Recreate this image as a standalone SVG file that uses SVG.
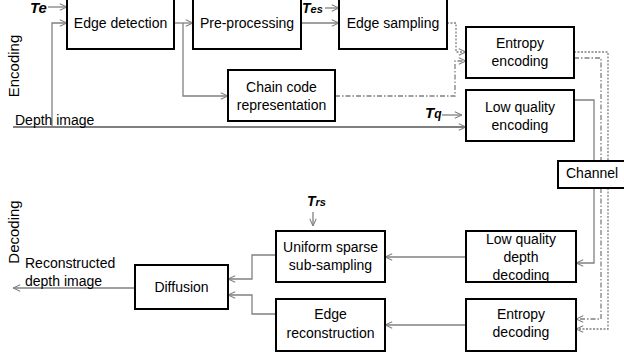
<svg xmlns="http://www.w3.org/2000/svg" width="624" height="358" viewBox="0 0 624 358">
  <style>
    .box { fill: #ffffff; stroke: #000000; stroke-width: 2; }
    .lbl { font-family: "Liberation Sans", Arial, sans-serif; font-size: 14px; fill: #000000; text-anchor: middle; }
    .side { font-family: "Liberation Sans", Arial, sans-serif; fill: #000000; }
    .param { font-family: "Liberation Sans", Arial, sans-serif; font-weight: bold; font-style: italic; fill: #000000; }
    .ln { fill: none; stroke: #808080; stroke-width: 1.3; }
    .dark { stroke: #555555; }
    .dot { stroke-dasharray: 2 1.5; }
    .dashdot { stroke-dasharray: 5 2 1.5 2; }
    .arr { marker-end: url(#ah); }
  </style>
  <defs>
    <marker id="ah" viewBox="0 0 10 10" refX="10" refY="5" markerWidth="8" markerHeight="8" orient="auto" markerUnits="userSpaceOnUse">
      <path d="M1,1 L10,5 L1,9" fill="none" stroke="#808080" stroke-width="1.3"/>
    </marker>
  </defs>

  <rect width="624" height="358" fill="#ffffff"/>

  <!-- section labels -->
  <text class="side" font-size="15" transform="translate(19,66) rotate(-90)" text-anchor="middle">Encoding</text>
  <text class="side" font-size="15" transform="translate(19,232) rotate(-90)" text-anchor="middle">Decoding</text>

  <!-- connectors -->
  <g id="connectors">
    <!-- parameter inputs -->
    <path class="ln arr" d="M48,7 H67"/>
    <path class="ln arr" d="M325,8 H339"/>
    <path class="ln arr" d="M442,115 H462"/>
    <path class="ln arr" d="M313,212 V226"/>

    <!-- depth image input -->
    <path class="ln dark arr" d="M13,127 H466"/>
    <path class="ln arr" d="M52,127 V23 H67"/>

    <!-- encoder chain -->
    <path class="ln arr" d="M174,23 H193"/>
    <path class="ln arr" d="M183,23 V96 H228"/>
    <path class="ln arr" d="M301,23 H339"/>
    <path class="ln dot arr" d="M447,23 H456 V52 H466"/>
    <path class="ln dashdot arr" d="M335,96 H455 V61 H466"/>

    <!-- to and from the channel -->
    <path class="ln" d="M574,100 H594 V161"/>
    <path class="ln dashdot" d="M574,58 H601 V161"/>
    <path class="ln dot" d="M574,52 H608 V161"/>
    <path class="ln arr" d="M594,188 V263 H576"/>
    <path class="ln dashdot arr" d="M601,188 V319 H576"/>
    <path class="ln dot arr" d="M608,188 V329 H576"/>

    <!-- decoder chain -->
    <path class="ln arr" d="M466,257 H385"/>
    <path class="ln arr" d="M466,325 H385"/>
    <path class="ln arr" d="M276,255 H252 V279 H228"/>
    <path class="ln arr" d="M276,314 H252 V295 H228"/>
    <path class="ln arr" d="M135,288 H13"/>
  </g>

  <!-- parameter labels -->
  <text class="param" x="30" y="13" font-size="15">Te</text>
  <text class="param" x="302" y="13" font-size="14">T<tspan font-size="11">es</tspan></text>
  <text class="param" x="425" y="118" font-size="15">T<tspan font-size="12">q</tspan></text>
  <text class="param" x="307" y="206" font-size="14">T<tspan font-size="11">rs</tspan></text>

  <!-- free labels -->
  <text class="side" font-size="14" x="15" y="125">Depth image</text>
  <text class="side" font-size="14" x="25" y="268">Reconstructed</text>
  <text class="side" font-size="14" x="25" y="286">depth image</text>

  <!-- nodes -->
  <g id="edge-detection">
    <rect class="box" x="67" y="-3" width="107" height="52"/>
    <text class="lbl" x="120.5" y="28">Edge detection</text>
  </g>
  <g id="pre-processing">
    <rect class="box" x="193" y="-3" width="108" height="52"/>
    <text class="lbl" x="247" y="28">Pre-processing</text>
  </g>
  <g id="edge-sampling">
    <rect class="box" x="339" y="-3" width="108" height="52"/>
    <text class="lbl" x="393" y="28">Edge sampling</text>
  </g>
  <g id="chain-code">
    <rect class="box" x="228" y="70" width="107" height="51"/>
    <text class="lbl" x="281.5" y="92">Chain code</text>
    <text class="lbl" x="281.5" y="110">representation</text>
  </g>
  <g id="entropy-encoding">
    <rect class="box" x="466" y="27" width="108" height="51"/>
    <text class="lbl" x="520" y="48">Entropy</text>
    <text class="lbl" x="520" y="66">encoding</text>
  </g>
  <g id="low-quality-encoding">
    <rect class="box" x="466" y="90" width="108" height="51"/>
    <text class="lbl" x="520" y="112">Low quality</text>
    <text class="lbl" x="520" y="130">encoding</text>
  </g>
  <g id="channel">
    <rect class="box" x="558" y="161" width="72" height="27"/>
    <text class="side" font-size="14" x="566" y="178">Channel</text>
  </g>
  <g id="low-quality-depth-decoding">
    <rect class="box" x="466" y="231" width="110" height="51"/>
    <text class="lbl" x="521" y="244">Low quality</text>
    <text class="lbl" x="521" y="262">depth</text>
    <text class="lbl" x="521" y="280">decoding</text>
  </g>
  <g id="entropy-decoding">
    <rect class="box" x="466" y="299" width="110" height="52"/>
    <text class="lbl" x="521" y="319">Entropy</text>
    <text class="lbl" x="521" y="337">decoding</text>
  </g>
  <g id="uniform-sparse-sub-sampling">
    <rect class="box" x="276" y="231" width="109" height="51"/>
    <text class="lbl" x="330.5" y="252">Uniform sparse</text>
    <text class="lbl" x="330.5" y="270">sub-sampling</text>
  </g>
  <g id="edge-reconstruction">
    <rect class="box" x="276" y="299" width="109" height="52"/>
    <text class="lbl" x="330.5" y="319">Edge</text>
    <text class="lbl" x="330.5" y="338">reconstruction</text>
  </g>
  <g id="diffusion">
    <rect class="box" x="135" y="265" width="93" height="44"/>
    <text class="lbl" x="181.5" y="292">Diffusion</text>
  </g>
</svg>
